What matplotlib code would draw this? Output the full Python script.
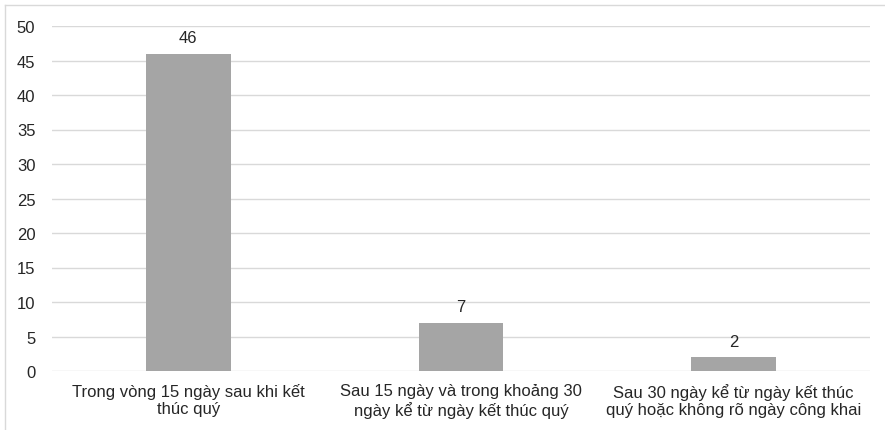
import matplotlib

matplotlib.use("Agg")

import matplotlib.pyplot as plt
from matplotlib.lines import Line2D

categories = [
    "Trong vòng 15 ngày sau khi kết\nthúc quý",
    "Sau 15 ngày và trong khoảng 30\nngày kể từ ngày kết thúc quý",
    "Sau 30 ngày kể từ ngày kết thúc\nquý hoặc không rõ ngày công khai",
]
counts = [46, 7, 2]
y_ticks = [0, 5, 10, 15, 20, 25, 30, 35, 40, 45, 50]

plt.rcParams["font.family"] = ["Liberation Sans", "DejaVu Sans"]
FS = 12
INK = "#262626"

fig = plt.figure(figsize=(8.85, 4.31), dpi=100)
ax = fig.add_axes([52 / 885, 1 - 372 / 431, 818 / 885, 345 / 431])

x = range(len(categories))
bars = ax.bar(x, counts, width=0.31, color="#a5a5a5", zorder=3)
for b, v in zip(bars, counts):
    ax.annotate(str(v), (b.get_x() + b.get_width() / 2, v),
                xytext=(0, 6), textcoords="offset points",
                ha="center", va="bottom", fontsize=FS, color=INK)

ax.set_xlim(-0.5, len(categories) - 0.5)
ax.set_ylim(0, 50)
ax.set_yticks(y_ticks)
ax.set_xticks(list(x))
ax.set_xticklabels(categories, fontsize=FS, color=INK, linespacing=1.15)
ax.tick_params(axis="y", length=0, pad=12, labelsize=FS, labelcolor=INK)
ax.tick_params(axis="x", length=0, pad=9)
ax.grid(True, axis="y", color="#d9d9d9", linewidth=1.0, zorder=0)
for s in ax.spines.values():
    s.set_visible(False)

# light outer chart frame (top and left edges)
fig.add_artist(Line2D([5 / 885, 1], [1 - 6 / 431] * 2, color="#d9d9d9", lw=1.0))
fig.add_artist(Line2D([5 / 885] * 2, [0, 1 - 6 / 431], color="#d9d9d9", lw=1.0))

fig.savefig("out.png", dpi=100)
